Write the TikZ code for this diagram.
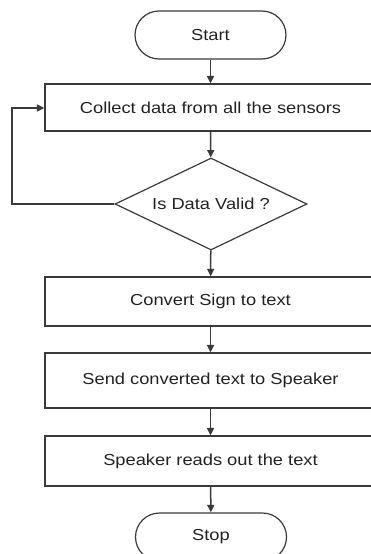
\documentclass[tikz,border=0pt]{standalone}
\usepackage{fontspec}
\newfontfamily\diagfont[FakeStretch=1.15]{Liberation Sans}
\usetikzlibrary{arrows.meta,shapes.geometric}
\definecolor{linec}{HTML}{3A3A3A}
\definecolor{textc}{HTML}{222222}
\tikzset{
  every node/.style={font=\diagfont\fontsize{15.9}{18}\selectfont, text=textc},
  procbox/.style={draw=linec, line width=1.3pt, rectangle, minimum width=331pt, minimum height=#1, inner sep=0pt},
  procbox/.default=49pt,
  terminal/.style={draw=linec, line width=1.2pt, rectangle, rounded corners=24pt, minimum width=151pt, minimum height=48pt, inner sep=0pt},
  decision/.style={draw=linec, line width=1.2pt, diamond, shape aspect=2.1, minimum width=192pt, minimum height=92pt, inner sep=0pt},
  flow/.style={draw=linec, line width=1.5pt, -{Triangle[length=7.5pt,width=7pt]}},
}
\begin{document}
\begin{tikzpicture}[x=1pt,y=-1pt]
\useasboundingbox (0,0) rectangle (371,554);
\clip (0,0) rectangle (371,554);
\node[terminal] (start) at (210.5,35) {Start};
\node[procbox=47pt] (collect) at (210.5,107.5) {Collect data from all the sensors};
\node[decision] (valid) at (211,204) {Is Data Valid ?};
\node[procbox=49pt] (convert) at (210.5,301.5) {Convert Sign to text};
\node[procbox=55pt] (send) at (210.5,380.5) {Send converted text to Speaker};
\node[procbox=50pt] (reads) at (210.5,461) {Speaker reads out the text};
\node[terminal] (stop) at (211,537) {Stop};
\coordinate (loopbot) at (12,204);
\coordinate (looptop) at (12,108);
\draw[flow] (start) -- (collect);
\draw[flow] (collect) -- (valid);
\draw[flow] (valid) -- (convert);
\draw[flow] (convert) -- (send);
\draw[flow] (send) -- (reads);
\draw[flow] (reads) -- (stop);
\draw[flow] (valid.west) -- (loopbot) -- (looptop) -- (collect.west |- looptop);
\end{tikzpicture}
\end{document}
